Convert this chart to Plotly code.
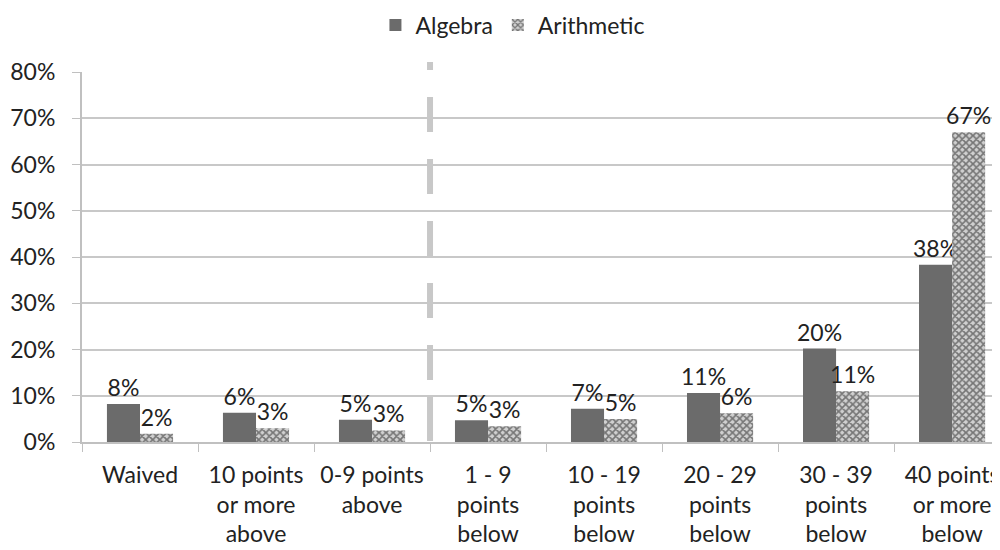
import plotly.graph_objects as go

# Categories and values
categories = ["Waived", "10 points<br>or more<br>above", "0-9 points<br>above",
              "1 - 9<br>points<br>below", "10 - 19<br>points<br>below", "20 - 29<br>points<br>below",
              "30 - 39<br>points<br>below", "40 points<br>or more<br>below"]
algebra = [8.2, 6.3, 4.8, 4.7, 7.2, 10.6, 20.2, 38.3]
arithmetic = [1.8, 3.0, 2.5, 3.4, 5.0, 6.2, 11.0, 67.0]
algebra_labels = ["8%", "6%", "5%", "5%", "7%", "11%", "20%", "38%"]
arithmetic_labels = ["2%", "3%", "3%", "3%", "5%", "6%", "11%", "67%"]
y_ticks = [0, 10, 20, 30, 40, 50, 60, 70, 80]

FONT = "Lato"
FS = 23

fig = go.Figure()
fig.add_trace(go.Bar(
    x=categories, y=algebra, name="Algebra",
    marker=dict(color="#6b6b6b", line=dict(width=0)),
    text=algebra_labels, textposition="outside", cliponaxis=False, constraintext="none",
    textfont=dict(size=FS, color="#222"),
))
fig.add_trace(go.Bar(
    x=categories, y=arithmetic, name="Arithmetic",
    marker=dict(color="#d0d0d0", line=dict(width=0),
                pattern=dict(shape="x", fgcolor="#1a1a1a", bgcolor="#d0d0d0", size=5, solidity=0.55)),
    text=arithmetic_labels, textposition="outside", cliponaxis=False, constraintext="none",
    textfont=dict(size=FS, color="#222"),
))

# dashed separator between "above" and "below" groups (drawn top -> bottom)
fig.add_shape(type="line", xref="x", yref="paper", x0=2.5, x1=2.5, y0=1.027, y1=0,
              line=dict(color="#c8c8c8", width=6,
                        dash="8px,27px,35px,27px,35px,27px,35px,27px,35px,27px,35px,17px,44px,10px"),
              layer="below")

fig.update_layout(
    width=1000, height=550,
    barmode="group", bargap=0.43, bargroupgap=0,
    plot_bgcolor="white", paper_bgcolor="white",
    font=dict(family=FONT, size=FS, color="#222"),
    margin=dict(l=74, r=13, t=64, b=116, autoexpand=False),
    legend=dict(orientation="h", x=0.472, xanchor="center", y=1.127, yanchor="middle",
                font=dict(size=FS), itemwidth=30, traceorder="normal"),
    showlegend=True,
)
fig.update_yaxes(
    range=[0, 80], tickvals=y_ticks, ticktext=[f"{v}%" for v in y_ticks],
    showgrid=True, gridcolor="#c8c8c8", gridwidth=2,
    showline=True, linecolor="#c0c0c0", linewidth=2,
    ticks="outside", ticklen=8, tickcolor="#c0c0c0", zeroline=False,
    ticklabelstandoff=12, automargin=False,
)
fig.update_xaxes(
    range=[-0.5, 7.37],
    showline=True, linecolor="#c0c0c0", linewidth=2,
    ticks="outside", tickson="boundaries", ticklen=8, tickcolor="#c0c0c0",
    tickangle=0, ticklabelstandoff=11, automargin=False,
)

fig.write_html("out.html")
